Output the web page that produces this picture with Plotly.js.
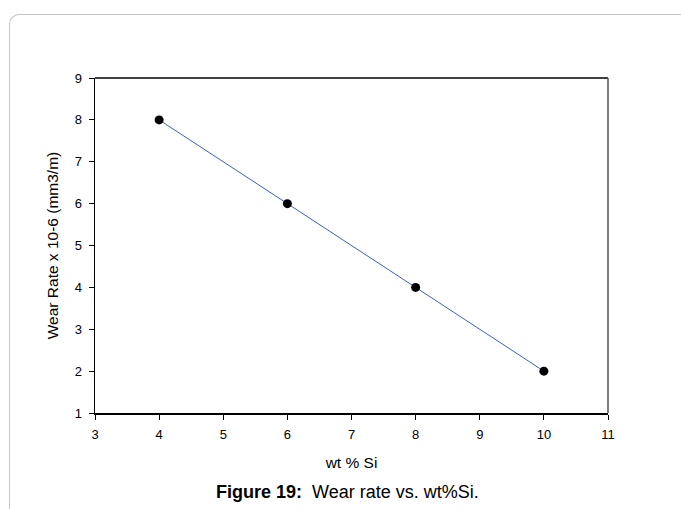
<!DOCTYPE html>
<html>
<head>
<meta charset="utf-8">
<script src="https://cdn.plot.ly/plotly-3.0.1.min.js"></script>
<style>
html,body{margin:0;padding:0;background:#fff;}
#wrap{position:relative;width:681px;height:509px;overflow:hidden;}
#frame{position:absolute;left:9px;top:14px;width:700px;height:520px;border-left:1px solid #c4c4c4;border-top:1px solid #c4c4c4;border-top-left-radius:10px;}
#chart{position:absolute;left:0;top:0;width:681px;height:509px;}
</style>
</head>
<body>
<div id="wrap"><div id="frame"></div><div id="chart"></div></div>
<script>
var siContent = [4, 6, 8, 10];
var wearRate = [8, 6, 4, 2];
var xTicks = [3, 4, 5, 6, 7, 8, 9, 10, 11];
var yTicks = [1, 2, 3, 4, 5, 6, 7, 8, 9];

var trace = {
  x: siContent, y: wearRate, type: 'scatter', mode: 'lines+markers',
  line: {color: '#3f5fc4', width: 1},
  marker: {color: '#000', size: 9},
  hoverinfo: 'none'
};
var L = 95, R = 608, T = 78, B = 413;
var layout = {
  width: 681, height: 509,
  margin: {l: L, r: 681 - R, t: T, b: 509 - B},
  paper_bgcolor: 'rgba(0,0,0,0)', plot_bgcolor: 'rgba(0,0,0,0)',
  showlegend: false,
  font: {family: 'Liberation Sans, Arial, sans-serif', color: '#000', size: 13},
  xaxis: {
    range: [3, 11], tickvals: xTicks, ticktext: xTicks.map(String),
    showgrid: false, zeroline: false, showline: true, linecolor: '#000', linewidth: 1.5,
    ticks: 'outside', ticklen: 5, tickcolor: '#000', tickwidth: 1,
    ticklabelstandoff: 4,
    tickfont: {size: 13},
    title: {text: 'wt % Si', font: {size: 15.5}, standoff: 16}
  },
  yaxis: {
    range: [1, 9], tickvals: yTicks, ticktext: yTicks.map(String),
    showgrid: false, zeroline: false, showline: true, linecolor: '#000', linewidth: 1.5,
    ticks: 'outside', ticklen: 5, tickcolor: '#000', tickwidth: 1,
    ticklabelstandoff: 4,
    tickfont: {size: 13},
    title: {text: 'Wear Rate x 10-6 (mm3/m)', font: {size: 15.5}, standoff: 12}
  },
  shapes: [
    {type: 'line', xref: 'paper', yref: 'paper', x0: 0, x1: 1, y0: 1, y1: 1, line: {color: '#000', width: 1.5}},
    {type: 'line', xref: 'paper', yref: 'paper', x0: 1, x1: 1, y0: 0, y1: 1, line: {color: '#555', width: 1.5}}
  ],
  annotations: [{
    xref: 'paper', yref: 'paper', x: (347 - L) / (R - L), y: (B - 492) / (B - T),
    xanchor: 'center', yanchor: 'middle', showarrow: false,
    text: '<b>Figure 19:</b>  Wear rate vs. wt%Si.',
    font: {size: 18, color: '#000'}
  }]
};
Plotly.newPlot('chart', [trace], layout, {displayModeBar: false, staticPlot: true});
</script>
</body>
</html>
